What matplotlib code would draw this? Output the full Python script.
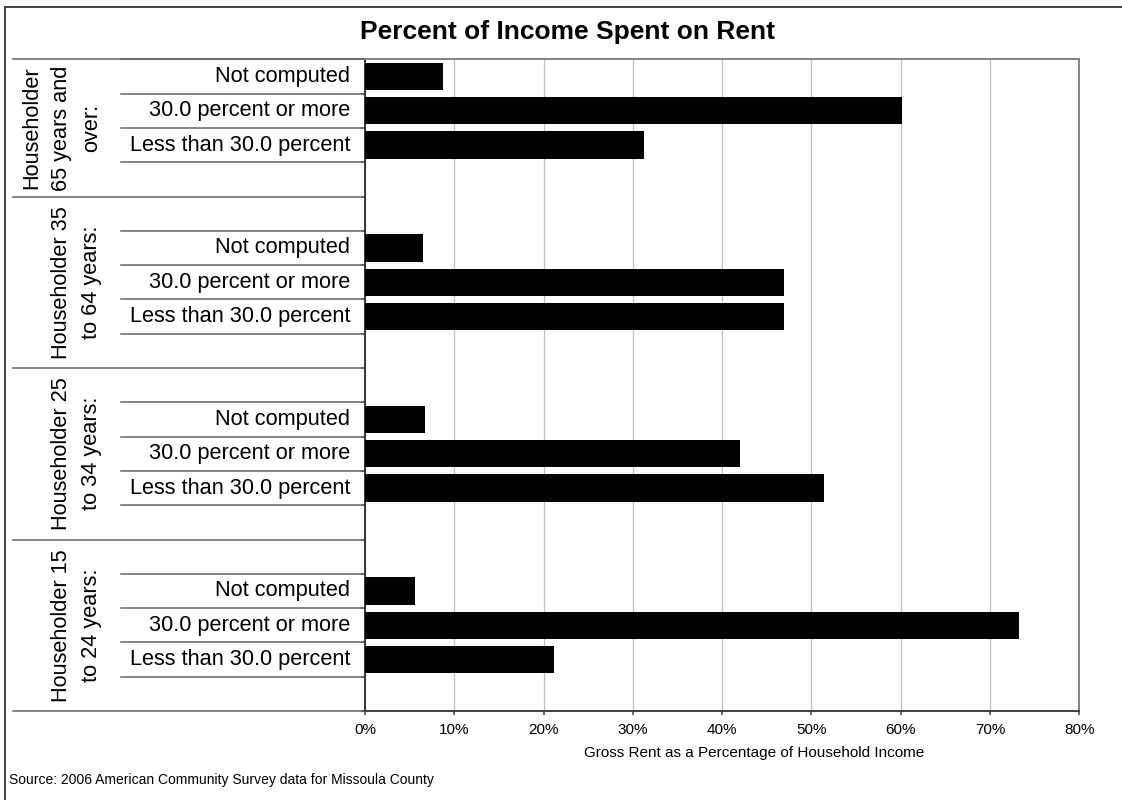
import matplotlib.pyplot as plt
import matplotlib.transforms as mtransforms
from matplotlib.lines import Line2D

plt.rcParams['font.family'] = ['Liberation Sans', 'DejaVu Sans']

# Dados (percentual da renda gasto com aluguel)
groups = [
    ["Householder", "65 years and", "over:"],
    ["Householder 35", "to 64 years:"],
    ["Householder 25", "to 34 years:"],
    ["Householder 15", "to 24 years:"],
]
categories = ["Not computed", "30.0 percent or more", "Less than 30.0 percent"]

age_65_over = [8.7, 60.1, 31.2]
age_35_64 = [6.5, 46.9, 46.9]
age_25_34 = [6.7, 42.0, 51.4]
age_15_24 = [5.6, 73.2, 21.2]
values = [age_65_over, age_35_64, age_25_34, age_15_24]

x_ticks = [0, 10, 20, 30, 40, 50, 60, 70, 80]

W, H = 1122, 800


def fx(px):
    return px / W


def fy(py):
    return 1 - py / H


# Monta as linhas (com linhas vazias entre os grupos, como no Excel).
rows = []
group_spans = []
pos = 0
for gi, vals in enumerate(values):
    start = pos
    if gi > 0:
        pos += 1
    first = pos
    for cat, v in zip(categories, vals):
        rows.append((pos, cat, v))
        pos += 1
    last = pos - 1
    pos += 1
    group_spans.append((start, pos, first, last))
n_rows = pos

fig = plt.figure(figsize=(W / 100, H / 100), dpi=100)
ax = fig.add_axes([fx(365), fy(711), fx(1079.3) - fx(365), fy(59.3) - fy(711)])

ax.barh([r[0] for r in rows], [r[2] for r in rows], height=0.8,
        color='black', zorder=3)

ax.set_xlim(0, 80)
ax.set_ylim(n_rows - 0.5, -0.5)
ax.set_xticks(x_ticks)
ax.set_xticklabels([f"{t}%" for t in x_ticks])
ax.set_yticks([i - 0.5 for i in range(n_rows + 1)])
ax.set_yticklabels([])
ax.grid(axis='x', color='#c0c0c0', linewidth=0.9, zorder=0)
ax.set_axisbelow(True)

ax.spines['left'].set_color('#333333')
ax.spines['left'].set_linewidth(1.4)
ax.spines['bottom'].set_color('#404040')
ax.spines['bottom'].set_linewidth(1.4)
for s in ['top', 'right']:
    ax.spines[s].set_color('#808080')
    ax.spines[s].set_linewidth(1.4)

ax.tick_params(axis='x', length=3, width=1.1, color='#404040', pad=6,
               labelsize=11)
ax.tick_params(axis='y', length=3, width=1.1, color='#333333')

# Rótulos das categorias e linhas divisórias à esquerda.
lab = mtransforms.blended_transform_factory(fig.transFigure, ax.transData)
for p, cat, v in rows:
    ax.text(fx(350), p, cat, transform=lab, ha='right', va='center',
            fontsize=15.7)

line_kw = dict(transform=lab, color='#666666', linewidth=1.1, clip_on=False)
for (start, end, first, last), lines in zip(group_spans, groups):
    ax.add_line(Line2D([fx(13), fx(365)], [start - 0.5, start - 0.5], **line_kw))
    for b in range(first, last + 2):
        ax.add_line(Line2D([fx(121), fx(365)], [b - 0.5, b - 0.5], **line_kw))
    yc = (start + end) / 2 - 0.5
    n = len(lines)
    for k, txt in enumerate(lines):
        ax.text(fx(91.5 - 30 * (n - 1 - k)), yc, txt, transform=lab,
                rotation=90, ha='center', va='center', fontsize=15.7)
ax.add_line(Line2D([fx(13), fx(365)], [n_rows - 0.5, n_rows - 0.5], **line_kw))

# Título, rótulo do eixo e fonte.
fig.text(fx(567), fy(39.5), "Percent of Income Spent on Rent", ha='center',
         va='baseline', fontsize=19, weight='bold')
fig.text(fx(754.5), fy(757.5), "Gross Rent as a Percentage of Household Income",
         ha='center', va='baseline', fontsize=11)
fig.text(fx(9), fy(784), "Source: 2006 American Community Survey data for Missoula County",
         ha='left', va='baseline', fontsize=10)

# Borda externa do gráfico.
fig.add_artist(Line2D([fx(5), fx(5)], [fy(7), 0], color='#404040', linewidth=1.4))
fig.add_artist(Line2D([fx(5), 1], [fy(7), fy(7)], color='#404040', linewidth=1.4))

fig.savefig('out.png', dpi=100)
